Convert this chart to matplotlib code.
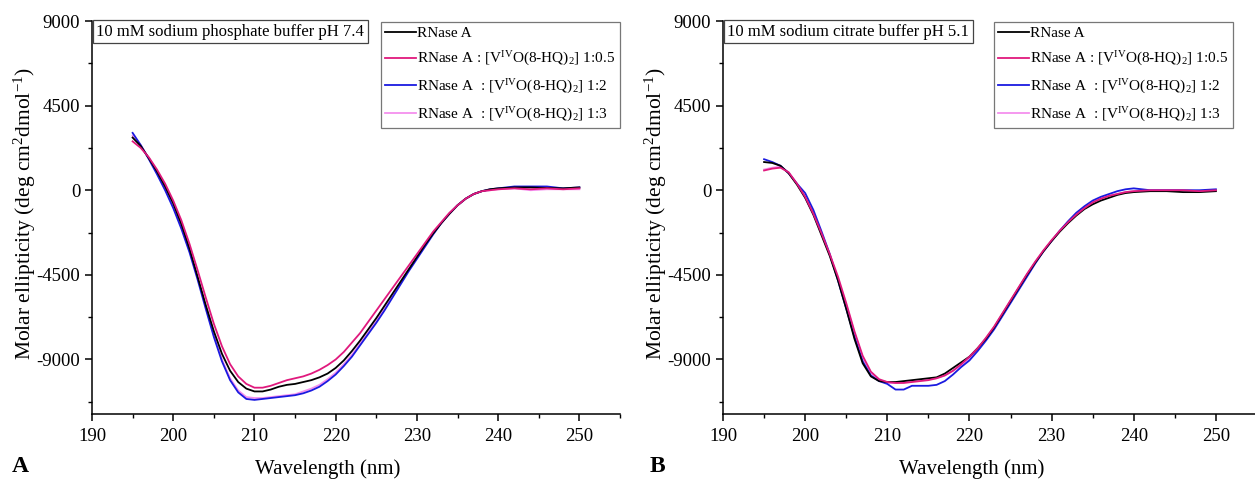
import numpy as np
import matplotlib
matplotlib.use("Agg")
import matplotlib.pyplot as plt
from matplotlib.ticker import MultipleLocator

plt.rcParams.update({
    "font.family": ["Liberation Serif", "DejaVu Serif"],
    "mathtext.fontset": "custom",
    "mathtext.rm": "Liberation Serif",
    "mathtext.it": "Liberation Serif:italic",
    "mathtext.bf": "Liberation Serif:bold",
    "axes.unicode_minus": False,
    "font.size": 12,
})

# wavelength grid (nm)
wl = list(range(195, 241)) + [242, 244, 246, 248, 250]

# panel A: 10 mM sodium phosphate buffer pH 7.4
a_rnase = [2800, 2350, 1700, 1000, 200, -700, -1800, -3100, -4600, -6100,
           -7500, -8700, -9600, -10200, -10550, -10700, -10700, -10600, -10450, -10350,
           -10300, -10200, -10100, -9950, -9750, -9450, -9050, -8550, -8000, -7400,
           -6800, -6150, -5500, -4850, -4200, -3550, -2900, -2300, -1750, -1250,
           -800, -450, -200, -50, 50, 100,
           150, 150, 120, 100, 150]
a_05 = [2600, 2250, 1750, 1100, 350, -550, -1600, -2850, -4250, -5700,
        -7100, -8300, -9250, -9900, -10300, -10500, -10500, -10400, -10250, -10100,
        -10000, -9900, -9750, -9550, -9300, -9000, -8600, -8100, -7600, -7000,
        -6400, -5800, -5200, -4600, -4000, -3400, -2800, -2200, -1700, -1200,
        -800, -450, -200, -50, 0, 50,
        100, 50, 100, 50, 100]
a_2 = [3050, 2400, 1650, 850, 0, -950, -2050, -3300, -4750, -6300,
       -7800, -9100, -10100, -10750, -11100, -11150, -11100, -11050, -11000, -10950,
       -10900, -10800, -10650, -10450, -10150, -9800, -9350, -8850, -8250, -7650,
       -7050, -6400, -5700, -5000, -4300, -3650, -3000, -2350, -1750, -1250,
       -800, -450, -200, -50, 50, 100,
       200, 200, 200, 100, 150]
a_3 = [2900, 2400, 1700, 950, 100, -850, -1950, -3200, -4650, -6200,
       -7700, -9000, -10000, -10650, -11000, -11050, -11050, -11000, -10950, -10900,
       -10850, -10700, -10550, -10350, -10050, -9700, -9250, -8750, -8150, -7550,
       -6950, -6300, -5600, -4900, -4250, -3600, -2950, -2300, -1750, -1250,
       -800, -450, -200, -50, 0, 50,
       100, 0, 50, 50, 50]

# panel B: 10 mM sodium citrate buffer pH 5.1
b_rnase = [1500, 1450, 1300, 900, 300, -400, -1300, -2400, -3500, -4800,
           -6300, -7900, -9200, -9900, -10150, -10200, -10200, -10150, -10100, -10050,
           -10000, -9950, -9750, -9450, -9150, -8850, -8400, -7900, -7300, -6600,
           -5900, -5200, -4500, -3850, -3250, -2700, -2200, -1750, -1350, -1000,
           -750, -550, -400, -250, -150, -100,
           -50, -50, -100, -100, -50]
b_05 = [1050, 1150, 1200, 950, 350, -350, -1250, -2300, -3400, -4600,
        -6000, -7500, -8800, -9650, -10050, -10200, -10250, -10250, -10200, -10150,
        -10100, -10000, -9850, -9600, -9250, -8850, -8400, -7850, -7250, -6550,
        -5850, -5150, -4450, -3800, -3200, -2650, -2150, -1700, -1300, -950,
        -650, -450, -300, -200, -100, -50,
        0, 0, 0, -50, 0]
b_2 = [1650, 1500, 1300, 900, 350, -150, -1050, -2200, -3400, -4800,
       -6300, -7800, -9100, -9850, -10150, -10300, -10600, -10600, -10400, -10400,
       -10400, -10350, -10150, -9800, -9400, -9050, -8550, -8000, -7400, -6700,
       -6000, -5300, -4600, -3900, -3250, -2700, -2150, -1650, -1200, -850,
       -550, -350, -200, -50, 50, 100,
       0, 0, 0, 0, 50]
b_3 = [1100, 1200, 1250, 950, 350, -400, -1300, -2350, -3450, -4700,
       -6100, -7600, -8900, -9700, -10100, -10250, -10250, -10200, -10150, -10100,
       -10050, -10000, -9850, -9600, -9300, -8950, -8500, -7950, -7350, -6650,
       -5900, -5200, -4500, -3850, -3250, -2700, -2150, -1700, -1300, -950,
       -650, -450, -300, -200, -100, -50,
       0, 0, 0, -50, 0]

labels = [
    "RNase A",
    r"RNase A : [V$^{\mathrm{IV}}$O(8-HQ)$_2$] 1:0.5",
    r"RNase A  : [V$^{\mathrm{IV}}$O(8-HQ)$_2$] 1:2",
    r"RNase A  : [V$^{\mathrm{IV}}$O(8-HQ)$_2$] 1:3",
]
colors = ["#000000", "#e0197d", "#1a1ae0", "#f590ee"]
draw_order = [3, 2, 0, 1]

W, H = 1255, 482
fig = plt.figure(figsize=(W / 100, H / 100), dpi=100)

def px_axes(x0, x1, y0, y1):
    return fig.add_axes([x0 / W, 1 - y1 / H, (x1 - x0) / W, (y1 - y0) / H])

ax1 = px_axes(92, 620, 21, 414)
ax2 = px_axes(723, 1257, 21, 414)

panels = [
    (ax1, [a_rnase, a_05, a_2, a_3], "10 mM sodium phosphate buffer pH 7.4", 1.0, 0.447, -0.102, "A", 12),
    (ax2, [b_rnase, b_05, b_2, b_3], "10 mM sodium citrate buffer pH 5.1", 0.955, 0.466, -0.101, "B", 650),
]

for ax, series, note, leg_x, xlab_x, ylab_x, letter, letter_x in panels:
    handles = [None] * 4
    for i in draw_order:
        (ln,) = ax.plot(wl, series[i], color=colors[i], lw=1.3, label=labels[i])
        handles[i] = ln
    ax.set_xlim(190, 255)
    ax.set_ylim(-11900, 9000)
    ax.xaxis.set_major_locator(MultipleLocator(10))
    ax.xaxis.set_minor_locator(MultipleLocator(5))
    ax.yaxis.set_major_locator(MultipleLocator(4500))
    ax.yaxis.set_minor_locator(MultipleLocator(2250))
    ax.tick_params(which="major", direction="out", length=5, width=1.1, labelsize=13.5)
    ax.tick_params(axis="x", which="major", pad=5)
    ax.tick_params(which="minor", direction="out", length=3, width=1.0)
    for s in ["top", "right"]:
        ax.spines[s].set_visible(False)
    for s in ["left", "bottom"]:
        ax.spines[s].set_linewidth(1.1)
    ax.set_xlabel("Wavelength (nm)", fontsize=15)
    ax.xaxis.set_label_coords(xlab_x, -0.115)
    ax.set_ylabel(r"Molar ellipticity (deg cm$^2$dmol$^{-1}$)", fontsize=15.5)
    ax.yaxis.set_label_coords(ylab_x, 0.51)
    ax.text(0.008, 0.993, note, transform=ax.transAxes, ha="left", va="top", fontsize=12,
            bbox=dict(boxstyle="square,pad=0.22", fc="white", ec="#444444", lw=0.9))
    leg = ax.legend(handles=handles, loc="upper right", bbox_to_anchor=(leg_x, 0.997),
                    fontsize=11, frameon=True, fancybox=False, edgecolor="#555555",
                    handlelength=2.0, handletextpad=0.1, labelspacing=0.62,
                    borderpad=0.3, borderaxespad=0.0)
    leg.get_frame().set_linewidth(0.9)
    fig.text(letter_x / W, 1 - 466 / H, letter, fontsize=17, fontweight="bold",
             ha="left", va="center")

fig.savefig("out.png", dpi=100)
